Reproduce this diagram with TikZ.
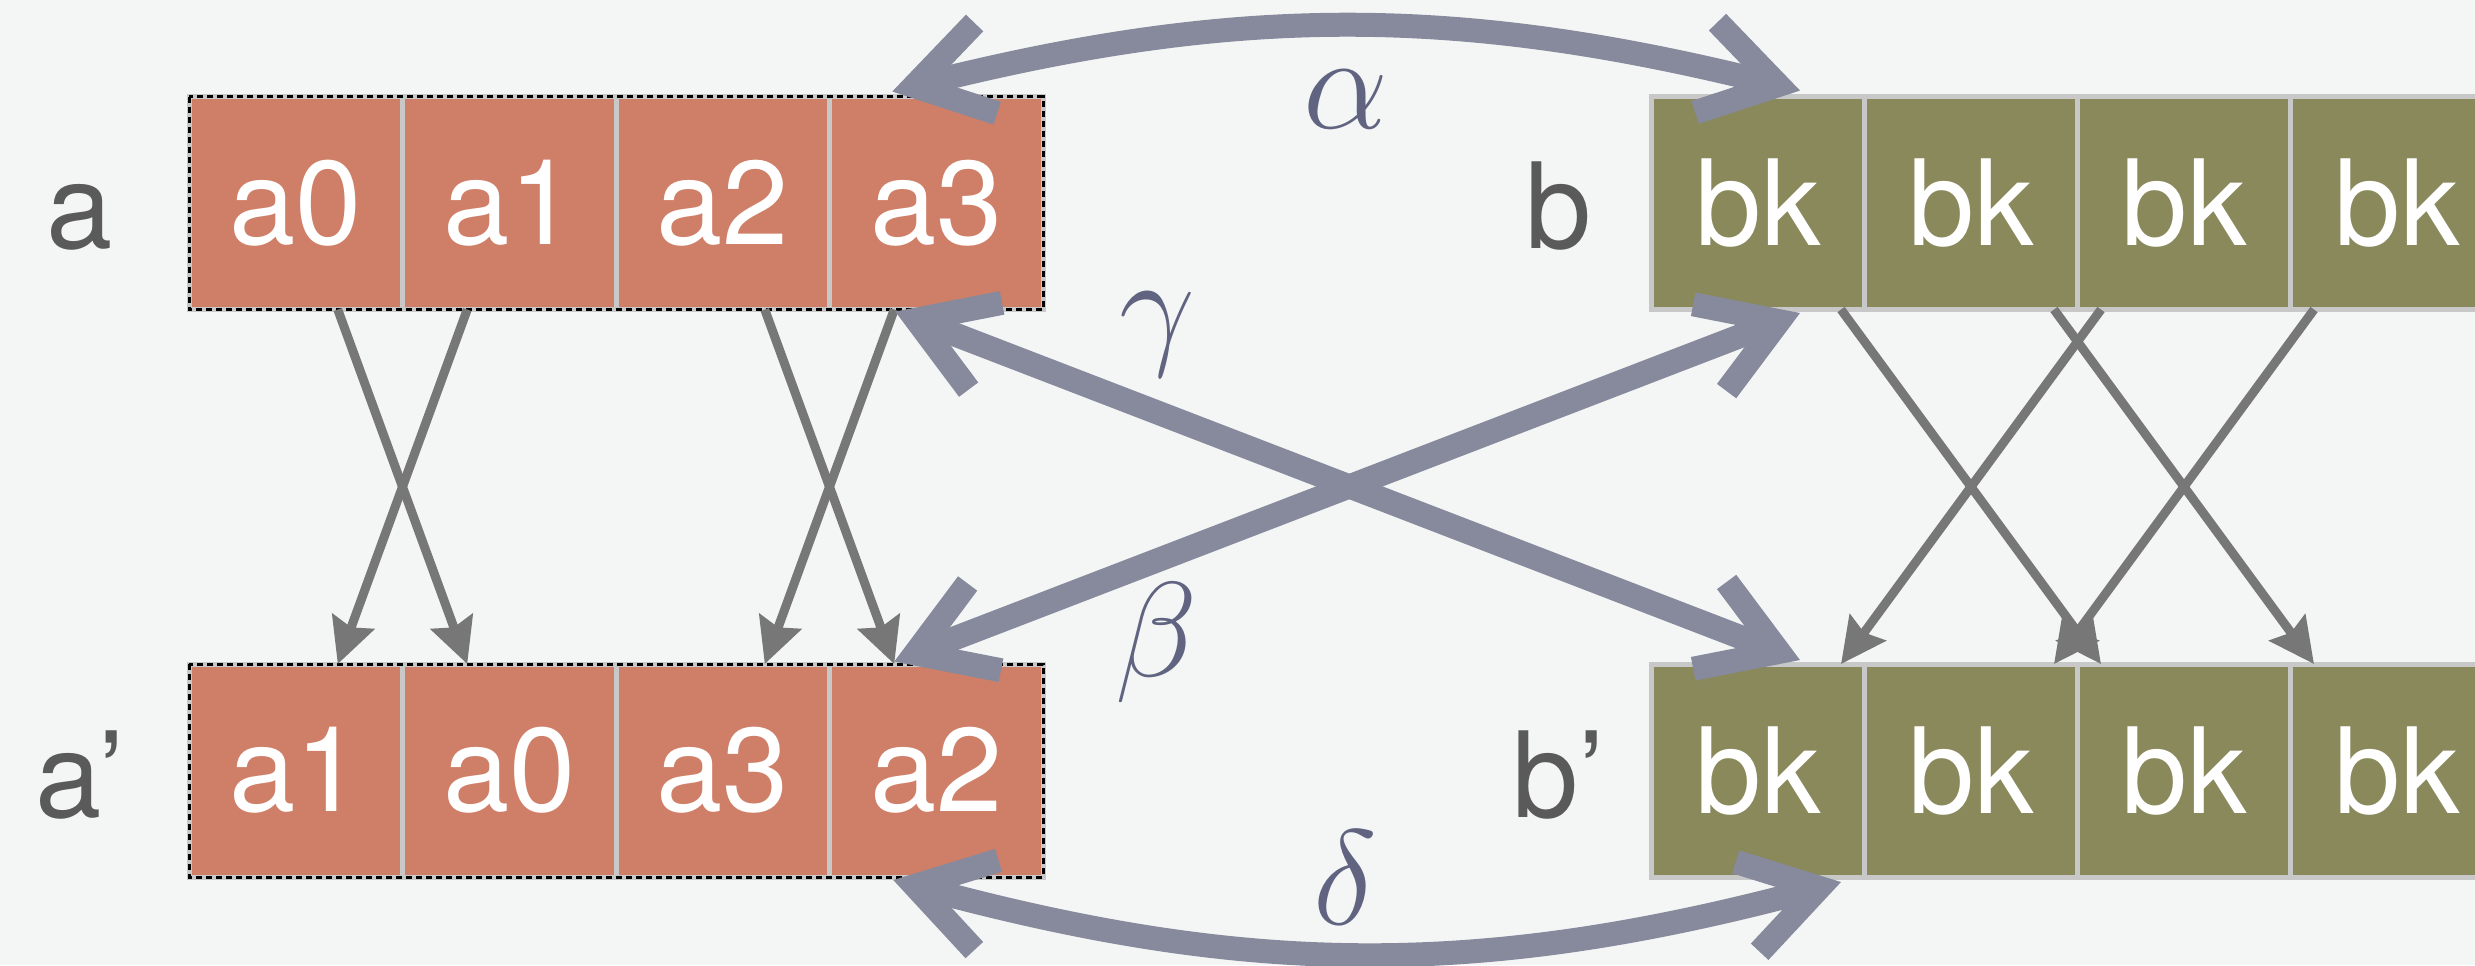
\documentclass[tikz,border=0pt]{standalone}
\usepackage{fix-cm}
\usepackage{fontspec}
\setmainfont{TeX Gyre Heros}
\usepackage{tikz}
\usetikzlibrary{arrows.meta, positioning, calc}
\definecolor{canvas}{RGB}{244,246,245}
\definecolor{salmon}{RGB}{207,127,103}
\definecolor{olive}{RGB}{138,137,92}
\definecolor{cellline}{RGB}{200,200,200}
\definecolor{shufflegray}{RGB}{119,119,119}
\definecolor{linkblue}{RGB}{134,138,156}
\definecolor{greekblue}{RGB}{96,100,128}
\definecolor{tagtext}{RGB}{90,90,90}
\newcommand{\cellsize}{\fontsize{11.9}{14}\selectfont}
\newcommand{\greeksize}{\fontsize{13.5}{16}\selectfont}

\begin{document}
\begin{tikzpicture}[
  x=0.1pt, y=0.1pt,
  cell/.style    = {draw=cellline, line width=0.5pt, minimum width=21.35pt, minimum height=21.3pt,
                    inner sep=0pt, outer sep=0pt, text=white, font=\cellsize},
  acell/.style   = {cell, fill=salmon},
  bcell/.style   = {cell, fill=olive},
  dashbox/.style = {draw=black, line width=0.3pt, dash pattern=on 0.6pt off 0.4pt},
  tag/.style     = {anchor=base, inner sep=0pt, text=tagtext, font=\cellsize},
  shuffle/.style = {-{Stealth[length=4.5pt, width=4.4pt, inset=0.6pt]}, line width=0.9pt, color=shufflegray},
  link/.style    = {{Straight Barb[length=7.4pt, width=9.3pt, line cap=butt]}-{Straight Barb[length=7.4pt, width=9.3pt, line cap=butt]},
                    line width=2.4pt, color=linkblue},
  greek/.style   = {inner sep=0pt, text=greekblue, font=\greeksize}
]
\useasboundingbox (0,0) rectangle (2475,965);
\fill[canvas] (0,0) rectangle (2475,965);

% rows a and a'
\foreach \i/\t in {0/a0, 1/a1, 2/a2, 3/a3}
  \node[acell] (a\i) at ({295.75+213.5*\i}, 762) {\t};
\foreach \i/\t in {0/a1, 1/a0, 2/a3, 3/a2}
  \node[acell] (ap\i) at ({295.75+213.5*\i}, 194.5) {\t};
% rows b and b'
\foreach \i in {0,...,3} {
  \node[bcell] (b\i)  at ({1758+213*\i}, 762) {bk};
  \node[bcell] (bp\i) at ({1758+213*\i}, 194.5) {bk};
}
\draw[dashbox] (a0.north west) rectangle (a3.south east);
\draw[dashbox] (ap0.north west) rectangle (ap3.south east);

\node[tag] (la)  at (80, 717)   {a};
\node[tag] (lap) at (80, 148)   {a’};
\node[tag] (lb)  at (1559, 717) {b};
\node[tag] (lbp) at (1559, 148) {b’};

% element moves inside a and b
\draw[shuffle] ([xshift=4.2pt]a0.south) -- ([xshift=-4.2pt]ap1.north);
\draw[shuffle] ([xshift=-4.2pt]a1.south) -- ([xshift=4.2pt]ap0.north);
\draw[shuffle] ([xshift=4.2pt]a2.south) -- ([xshift=-4.2pt]ap3.north);
\draw[shuffle] ([xshift=-4.2pt]a3.south) -- ([xshift=4.2pt]ap2.north);
\draw[shuffle] ([xshift=8.3pt]b0.south) -- ([xshift=-8.3pt]bp2.north);
\draw[shuffle] ([xshift=-8.3pt]b2.south) -- ([xshift=8.3pt]bp0.north);
\draw[shuffle] ([xshift=8.3pt]b1.south) -- ([xshift=-8.3pt]bp3.north);
\draw[shuffle] ([xshift=-8.3pt]b3.south) -- ([xshift=8.3pt]bp1.north);

% links between a and b
\draw[link] ([xshift=-4.4pt, yshift=0.5pt]a3.north) to[bend left=14]
  node[greek, yshift=-7.3pt] {$\alpha$} ([xshift=4.2pt, yshift=0.6pt]b0.north);
\draw[link] ([xshift=-4.1pt, yshift=-0.2pt]a3.south) --
  node[greek, pos=.29, yshift=7.8pt] {$\gamma$} ([xshift=4.2pt, yshift=0.4pt]bp0.north);
\draw[link] ([xshift=-4.2pt, yshift=0.25pt]ap3.north) --
  node[greek, pos=.29, yshift=-8.2pt] {$\beta$} ([xshift=4.2pt, yshift=-0.35pt]b0.south);
\draw[link] ([xshift=-4.3pt, yshift=-0.3pt]ap3.south) to[bend right=15]
  node[greek, xshift=-2.2pt, yshift=7.5pt] {$\delta$} ([xshift=8.3pt, yshift=-0.5pt]bp0.south);
\end{tikzpicture}
\end{document}
